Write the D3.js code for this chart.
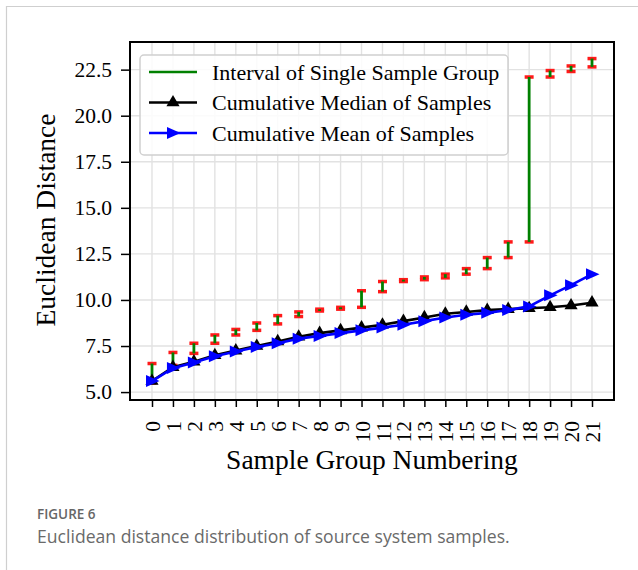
<!DOCTYPE html>
<html lang="en">
<head>
    <meta charset="UTF-8">
    <title>Euclidean Distance Distribution</title>
    <style>
        body {
            margin: 0;
            padding: 0;
            background-color: white;
        }
        #container {
            width: 638px;
            height: 570px;
        }
        .chart text {
            font-family: "Liberation Serif", "Times New Roman", serif;
            fill: #000;
        }
        .chart text.caption-title {
            font-family: "Open Sans", "Noto Sans", sans-serif;
            font-weight: 600;
            font-size: 13.5px;
            fill: #666;
        }
        .chart text.caption-text {
            font-family: "Open Sans", "Noto Sans", sans-serif;
            font-size: 17.6px;
            fill: #6a6a6a;
        }
    </style>
</head>
<body>
    <div id="container"></div>

    <script src="https://d3js.org/d3.v7.min.js"></script>
    <script>
        // Sample groups 0..21
        const groups = d3.range(0, 22);

        // Cumulative mean (blue) and median (black)
        const meanValues = [5.6, 6.3, 6.6, 6.95, 7.2, 7.45, 7.65, 7.9, 8.05, 8.2, 8.35,
                            8.5, 8.65, 8.85, 9.05, 9.2, 9.3, 9.45, 9.65, 10.25, 10.8, 11.4];
        const medianValues = [5.6, 6.35, 6.65, 7.0, 7.25, 7.5, 7.75, 8.0, 8.2, 8.35, 8.5,
                              8.65, 8.85, 9.05, 9.25, 9.35, 9.45, 9.5, 9.55, 9.6, 9.7, 9.85];

        // Interval of each single sample group
        const intervalLow = [5.5, 6.45, 7.1, 7.65, 8.1, 8.35, 8.7, 9.1, 9.4, 9.5, 9.6,
                             10.45, 11.0, 11.1, 11.2, 11.4, 11.7, 12.3, 13.15, 22.1, 22.4, 22.65];
        const intervalHigh = [6.55, 7.15, 7.65, 8.1, 8.4, 8.75, 9.15, 9.35, 9.5, 9.6, 10.5,
                              11.0, 11.1, 11.25, 11.4, 11.7, 12.3, 13.15, 22.1, 22.45, 22.7, 23.1];

        const yTicks = [5.0, 7.5, 10.0, 12.5, 15.0, 17.5, 20.0, 22.5];

        const legendLabels = ["Interval of Single Sample Group",
                              "Cumulative Median of Samples",
                              "Cumulative Mean of Samples"];

        const width = 638, height = 570;
        const plot = {left: 130, right: 614, top: 42, bottom: 400};

        const svg = d3.select("#container")
            .append("svg")
            .attr("width", width)
            .attr("height", height)
            .attr("class", "chart");

        // card border like the journal page
        svg.append("path")
            .attr("d", `M6.5,${height} V6.5 H${width}`)
            .attr("fill", "none")
            .attr("stroke", "#cfcfcf")
            .attr("stroke-width", 1.2);

        const x = d3.scaleLinear()
            .domain([-1.05, 22.05])
            .range([plot.left, plot.right]);

        const y = d3.scaleLinear()
            .domain([4.57, 24.0])
            .range([plot.bottom, plot.top]);

        // grid
        const grid = svg.append("g");
        grid.selectAll(".vgrid")
            .data(groups)
            .enter()
            .append("line")
            .attr("x1", d => x(d)).attr("x2", d => x(d))
            .attr("y1", plot.top).attr("y2", plot.bottom)
            .attr("stroke", "#e2e2e2")
            .attr("stroke-width", 1.4);
        grid.selectAll(".hgrid")
            .data(yTicks)
            .enter()
            .append("line")
            .attr("x1", plot.left).attr("x2", plot.right)
            .attr("y1", d => y(d)).attr("y2", d => y(d))
            .attr("stroke", "#e2e2e2")
            .attr("stroke-width", 1.4);

        // axes
        const xAxis = svg.append("g")
            .attr("transform", `translate(0,${plot.bottom})`)
            .call(d3.axisBottom(x).tickValues(groups).tickFormat(d3.format("d"))
                .tickSize(7).tickPadding(14));
        xAxis.select(".domain").remove();
        xAxis.selectAll(".tick line").attr("stroke", "#000").attr("stroke-width", 1.5);
        xAxis.selectAll(".tick text")
            .attr("transform", "rotate(-90)")
            .attr("text-anchor", "end")
            .attr("x", -21)
            .attr("y", 0)
            .attr("dy", "0.35em")
            .style("font-size", "21.5px");

        const yAxis = svg.append("g")
            .attr("transform", `translate(${plot.left},0)`)
            .call(d3.axisLeft(y).tickValues(yTicks).tickFormat(d3.format(".1f"))
                .tickSize(9).tickPadding(9));
        yAxis.select(".domain").remove();
        yAxis.selectAll(".tick line").attr("stroke", "#000").attr("stroke-width", 1.5);
        yAxis.selectAll(".tick text").style("font-size", "21.5px");

        // intervals: red caps under green bars
        const intervals = groups.map(i => ({i: i, lo: intervalLow[i], hi: intervalHigh[i]}));
        const ivG = svg.append("g");
        ivG.selectAll(".cap")
            .data(intervals.flatMap(d => [{i: d.i, v: d.lo}, {i: d.i, v: d.hi}]))
            .enter()
            .append("line")
            .attr("x1", d => x(d.i) - 4.5).attr("x2", d => x(d.i) + 4.5)
            .attr("y1", d => y(d.v)).attr("y2", d => y(d.v))
            .attr("stroke", "#ff1a1a")
            .attr("stroke-width", 3.5);
        ivG.selectAll(".bar")
            .data(intervals)
            .enter()
            .append("line")
            .attr("x1", d => x(d.i)).attr("x2", d => x(d.i))
            .attr("y1", d => y(d.lo)).attr("y2", d => y(d.hi))
            .attr("stroke", "#008000")
            .attr("stroke-width", 2.8);

        const upTri = d3.symbol().type(d3.symbolTriangle).size(75);
        const rightTri = "M-6,-6 L7.5,0 L-6,6 Z";

        // median series
        const line = d3.line().x((d, i) => x(i)).y(d => y(d));
        svg.append("path")
            .datum(medianValues)
            .attr("d", line)
            .attr("fill", "none")
            .attr("stroke", "#000")
            .attr("stroke-width", 2.6);
        svg.append("g").selectAll("path")
            .data(medianValues)
            .enter()
            .append("path")
            .attr("d", upTri)
            .attr("transform", (d, i) => `translate(${x(i)},${y(d)})`)
            .attr("fill", "#000");

        // mean series
        svg.append("path")
            .datum(meanValues)
            .attr("d", line)
            .attr("fill", "none")
            .attr("stroke", "#0000ff")
            .attr("stroke-width", 2.6);
        svg.append("g").selectAll("path")
            .data(meanValues)
            .enter()
            .append("path")
            .attr("d", rightTri)
            .attr("transform", (d, i) => `translate(${x(i)},${y(d)})`)
            .attr("fill", "#0000ff");

        // frame
        svg.append("rect")
            .attr("x", plot.left).attr("y", plot.top)
            .attr("width", plot.right - plot.left)
            .attr("height", plot.bottom - plot.top)
            .attr("fill", "none")
            .attr("stroke", "#000")
            .attr("stroke-width", 2);

        // legend
        const legend = svg.append("g").attr("transform", "translate(140,55)");
        legend.append("rect")
            .attr("width", 368).attr("height", 100)
            .attr("rx", 4)
            .attr("fill", "white").attr("fill-opacity", 0.85)
            .attr("stroke", "#d0d0d0").attr("stroke-width", 1.5);
        const rows = [
            {label: legendLabels[0], color: "#008000", marker: null},
            {label: legendLabels[1], color: "#000", marker: upTri()},
            {label: legendLabels[2], color: "#0000ff", marker: rightTri}
        ];
        const entry = legend.selectAll(".entry")
            .data(rows)
            .enter()
            .append("g")
            .attr("transform", (d, i) => `translate(0,${17 + i * 30.5})`);
        entry.append("line")
            .attr("x1", 9).attr("x2", 57)
            .attr("stroke", d => d.color)
            .attr("stroke-width", 2.6);
        entry.filter(d => d.marker)
            .append("path")
            .attr("d", d => d.marker)
            .attr("transform", "translate(33,0)")
            .attr("fill", d => d.color);
        entry.append("text")
            .attr("x", 72)
            .attr("dy", "0.35em")
            .style("font-size", "22px")
            .text(d => d.label);

        // axis titles
        svg.append("text")
            .attr("x", (plot.left + plot.right) / 2)
            .attr("y", 469)
            .attr("text-anchor", "middle")
            .style("font-size", "27.5px")
            .text("Sample Group Numbering");
        svg.append("text")
            .attr("transform", `translate(55,${(plot.top + plot.bottom) / 2 - 1}) rotate(-90)`)
            .attr("text-anchor", "middle")
            .style("font-size", "27.5px")
            .text("Euclidean Distance");

        // caption
        svg.append("text")
            .attr("class", "caption-title")
            .attr("x", 37).attr("y", 519)
            .text("FIGURE 6");
        svg.append("text")
            .attr("class", "caption-text")
            .attr("x", 37).attr("y", 543)
            .text("Euclidean distance distribution of source system samples.");
    </script>
</body>
</html>
